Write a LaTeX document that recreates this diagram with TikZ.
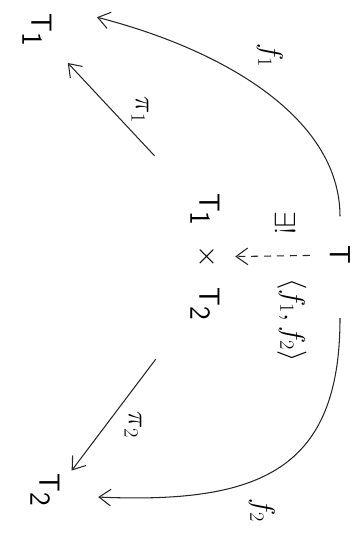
\documentclass[tikz,border=0pt]{standalone}
\usepackage{graphicx}
\usetikzlibrary{arrows.meta}
\newcommand{\turn}[1]{\rotatebox{-90}{#1}}
\begin{document}
\begin{tikzpicture}[x=0.03cm,y=0.03cm,
  obj/.style={inner sep=0pt,font=\fontsize{36}{40}\selectfont},
  lbl/.style={inner sep=0pt,font=\fontsize{24}{28}\selectfont},
  arr/.style={-{Straight Barb[length=3.5mm,width=5mm]},line width=0.9pt,black!85}]
  \useasboundingbox (0,0) rectangle (360,540);
  % objects
  \node[obj,minimum width=1.2cm,minimum height=1.5cm] (T) at (340,285) {\turn{$\mathsf{T}$}};
  \node[obj,minimum width=2.4cm,minimum height=5.4cm] (P) at (205,283)
    {\turn{$\mathsf{T}_{\mathsf{1}}\,\;\times\;\,\mathsf{T}_{\mathsf{2}}$}};
  \node[obj,minimum width=1.26cm,minimum height=1.35cm] (T1) at (37,510) {\turn{$\mathsf{T}_{\mathsf{1}}$}};
  \node[obj,minimum width=1.26cm,minimum height=1.35cm] (T2) at (45,50) {\turn{$\mathsf{T}_{\mathsf{2}}$}};
  % arrows
  \draw[arr,shorten <=0.4cm,shorten >=1.2cm] (T.north) .. controls (340,420) and (228,489) .. (T1.north east);
  \draw[arr,shorten <=1.14cm,shorten >=0.96cm] (T.south) .. controls (340,70) and (260,36) .. (T2.-15);
  \draw[arr,dashed,dash pattern=on 6pt off 5pt,shorten <=0.3cm,shorten >=-0.3cm] (T) -- (P);
  \draw[arr,shorten <=0.45cm,shorten >=0.42cm] (P.north west) -- (T1.south east);
  \draw[arr,shorten <=0.45cm,shorten >=0.27cm] (P.south west) -- (T2.30);
  % labels
  \node[lbl] (lf1) at (270,485) {\turn{$f_1$}};
  \node[lbl] (lf2) at (262,30) {\turn{$f_2$}};
  \node[lbl] (lp1) at (140,430) {\turn{$\pi_1$}};
  \node[lbl] (lp2) at (133,115) {\turn{$\pi_2$}};
  \node[lbl] (lex) at (285,317) {\turn{$\exists !$}};
  \node[lbl] (lpair) at (292,220) {\turn{$\langle f_1,f_2\rangle$}};
\end{tikzpicture}
\end{document}
